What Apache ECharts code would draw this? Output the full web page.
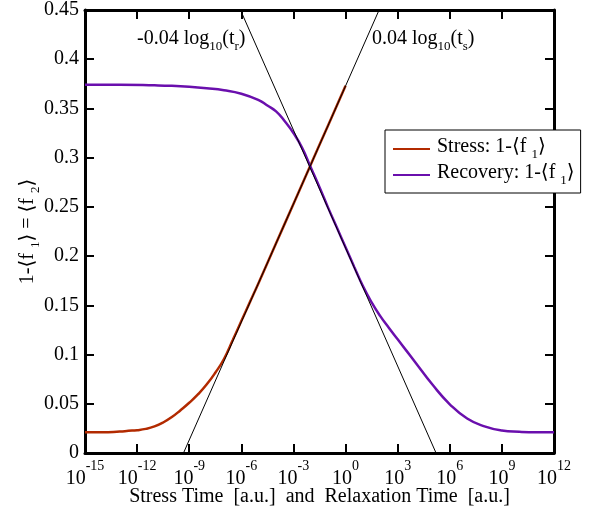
<!DOCTYPE html>
<html><head><meta charset="utf-8">
<script src="https://cdn.jsdelivr.net/npm/echarts@6/dist/echarts.min.js"></script>
<style>html,body{margin:0;padding:0;background:#fff}#c{width:595px;height:508px}</style>
</head><body><div id="c"></div>
<script>
// x values are log10(time)
const xTickExponents = [-15, -12, -9, -6, -3, 0, 3, 6, 9, 12];
const yTicks = [0, 0.05, 0.1, 0.15, 0.2, 0.25, 0.3, 0.35, 0.4, 0.45];

const stressLogT = [-15, -14, -13, -12.5, -12, -11.5, -11, -10.5, -10, -9.5, -9, -8.5, -8, -7.5, -7, -6.5, -6, -5.5, -5, -4, -3, -2, -1, 0];
const stressVal  = [0.021, 0.021, 0.0218, 0.0225, 0.0232, 0.0245, 0.027, 0.031, 0.0365, 0.0435, 0.051, 0.0595, 0.0695, 0.0815, 0.0955, 0.1145, 0.134, 0.1535, 0.173, 0.213, 0.253, 0.293, 0.333, 0.373];

const recLogT = [-15, -13, -11, -10, -9, -8, -7, -6, -5, -4.5, -4, -3.5, -3, -2.5, -2, -1.5, -1, -0.5, 0, 0.5, 1, 1.5, 2, 2.5, 3, 3.5, 4, 5, 6, 7, 8, 9, 10, 11, 12];
const recVal  = [0.374, 0.374, 0.3735, 0.373, 0.372, 0.3705, 0.3685, 0.365, 0.3585, 0.353, 0.347, 0.337, 0.325, 0.310, 0.290, 0.270, 0.249, 0.229, 0.209, 0.189, 0.1695, 0.153, 0.139, 0.127, 0.1155, 0.104, 0.0925, 0.0695, 0.0495, 0.035, 0.027, 0.0228, 0.0215, 0.021, 0.021];

const stressFitLogT = [-9.33, 1.93];
const stressFitVal  = [0, 0.45];
const recFitLogT = [-6.05, 5.21];
const recFitVal  = [0.45, 0];

const seriesNames = ['Stress', 'Recovery'];
const legendLabels = {
  Stress: '{b|Stress: 1-\u27E8f }{s|1}{b|\u27E9}',
  Recovery: '{b|Recovery: 1-\u27E8f }{s|1}{b|\u27E9}'
};

const FONT = '"Liberation Serif", "DejaVu Serif", serif';
const FS = 20;
const zip = (xs, ys) => xs.map((x, i) => [x, ys[i]]);

const subRich = {
  b: { fontFamily: FONT, fontSize: FS, lineHeight: 24, verticalAlign: 'top', color: '#000' },
  s: { fontFamily: FONT, fontSize: 13, lineHeight: 10, verticalAlign: 'bottom', color: '#000' }
};
const supRich = {
  b: { fontFamily: FONT, fontSize: FS, lineHeight: 30, verticalAlign: 'bottom', color: '#000' },
  s: { fontFamily: FONT, fontSize: 14, lineHeight: 12, verticalAlign: 'top', color: '#000' }
};

const axisLine = { show: true, onZero: false, lineStyle: { color: '#000', width: 3 } };
const tick = { show: true, inside: true, length: 9, lineStyle: { color: '#000', width: 2 } };

const chart = echarts.init(document.getElementById('c'), null, { renderer: 'canvas' });
chart.setOption({
  animation: false,
  backgroundColor: '#fff',
  grid: { left: 85, right: 41, top: 10, bottom: 55, containLabel: false, outerBoundsMode: 'none' },
  xAxis: [{
    type: 'value', position: 'bottom',
    min: xTickExponents[0], max: xTickExponents[xTickExponents.length - 1], interval: 3,
    axisLine: axisLine, axisTick: tick, splitLine: { show: false },
    axisLabel: { margin: 6, formatter: v => '{b|10}{s|' + v + '}', rich: supRich },
    name: 'Stress Time  [a.u.]  and  Relaxation Time  [a.u.]',
    nameLocation: 'middle', nameGap: 34, nameMoveOverlap: false,
    nameTextStyle: { fontFamily: FONT, fontSize: FS, color: '#000' }
  }, {
    type: 'value', position: 'top',
    min: xTickExponents[0], max: xTickExponents[xTickExponents.length - 1], interval: 3,
    axisLine: axisLine, axisTick: tick, axisLabel: { show: false }, splitLine: { show: false }
  }],
  yAxis: [{
    type: 'value', position: 'left',
    min: yTicks[0], max: yTicks[yTicks.length - 1], interval: 0.05,
    axisLine: axisLine, axisTick: tick, splitLine: { show: false },
    axisLabel: { margin: 6, fontFamily: FONT, fontSize: FS, color: '#000' },
    name: '{b|1-\u27E8f }{s|1}{b|\u27E9 = \u27E8f }{s|2}{b|\u27E9}',
    nameLocation: 'middle', nameGap: 43, nameRotate: 90, nameMoveOverlap: false,
    nameTextStyle: { rich: subRich }
  }, {
    type: 'value', position: 'right',
    min: yTicks[0], max: yTicks[yTicks.length - 1], interval: 0.05,
    axisLine: axisLine, axisTick: tick, axisLabel: { show: false }, splitLine: { show: false }
  }],
  legend: {
    data: seriesNames,
    orient: 'vertical', left: 385, top: 130,
    padding: [7, 6, 6, 8], itemGap: 2,
    itemWidth: 37, itemHeight: 2, icon: 'rect',
    backgroundColor: '#fff', borderColor: '#000', borderWidth: 1, borderRadius: 0,
    formatter: n => legendLabels[n],
    textStyle: { rich: subRich, padding: [0, 0, 0, 2] }
  },
  graphic: [
    { type: 'text', left: 137, top: 29, z: 100,
      style: { text: '{b|-0.04 log}{s|10}{b|(t}{s|r}{b|)}', rich: subRich } },
    { type: 'text', left: 372, top: 29, z: 100,
      style: { text: '{b|0.04 log}{s|10}{b|(t}{s|s}{b|)}', rich: subRich } }
  ],
  series: [
    { name: 'Stress', type: 'line', data: zip(stressLogT, stressVal), showSymbol: false,
      smooth: 0.5, lineStyle: { color: '#b22a00', width: 2.5 }, itemStyle: { color: '#b22a00' } },
    { name: 'Recovery', type: 'line', data: zip(recLogT, recVal), showSymbol: false,
      smooth: 0.5, lineStyle: { color: '#6a0fad', width: 2.5 }, itemStyle: { color: '#6a0fad' } },
    { name: 'fitS', type: 'line', data: zip(stressFitLogT, stressFitVal), showSymbol: false,
      lineStyle: { color: '#000', width: 1 }, z: 5 },
    { name: 'fitR', type: 'line', data: zip(recFitLogT, recFitVal), showSymbol: false,
      lineStyle: { color: '#000', width: 1 }, z: 5 }
  ]
});
</script></body></html>
